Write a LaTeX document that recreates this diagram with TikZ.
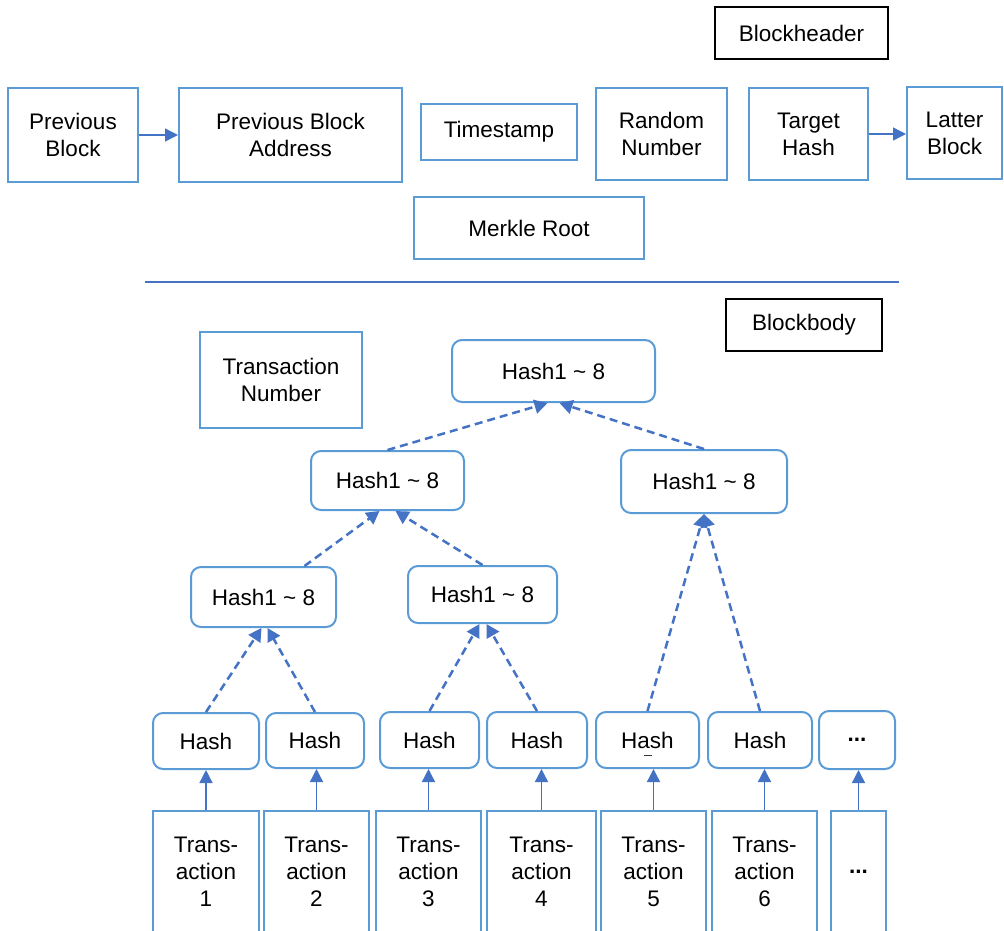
\documentclass[tikz,border=0pt]{standalone}
\usepackage{fontspec}
\setmainfont{Liberation Sans}
\usetikzlibrary{arrows.meta}

\definecolor{boxblue}{HTML}{5B9BD5}
\definecolor{linkblue}{HTML}{4472C4}

\tikzset{
  every node/.style={font=\fontsize{22.5}{27}\selectfont, inner sep=0pt, align=center},
  field/.style={draw=boxblue, line width=2pt, fill=white},
  hashbox/.style={field, rounded corners=10pt},
  tagbox/.style={draw=black, line width=2pt, fill=white},
  txbox/.style={field, minimum height=122pt},
  link/.style={draw=linkblue, line width=1.4pt, -{Triangle[length=13pt,width=13pt]}},
  merge/.style={draw=linkblue, line width=2.5pt, dash pattern=on 8pt off 5pt,
                -{Triangle[length=13pt,width=14pt]}},
}

\begin{document}
\begin{tikzpicture}[x=1pt, y=-1pt]
  \useasboundingbox (0,0) rectangle (1004,930);
  \clip (0,0) rectangle (1004,930);

  % ---------- block header ----------
  \node[tagbox, minimum width=173pt, minimum height=52pt] (bheader) at (801.5,33) {Blockheader};

  \node[field, minimum width=130pt, minimum height=94pt] (prev)   at (73,135)    {Previous\\Block};
  \node[field, minimum width=223pt, minimum height=94pt] (pba)    at (290.5,135) {Previous Block\\Address};
  \node[field, minimum width=156pt, minimum height=56pt] (ts)     at (499,132)   {Timestamp};
  \node[field, minimum width=131pt, minimum height=92pt] (rand)   at (661.5,134) {Random\\Number};
  \node[field, minimum width=119pt, minimum height=92pt] (target) at (808.5,134) {Target\\Hash};
  \node[field, minimum width=95pt,  minimum height=92pt] (latter) at (954.5,133) {Latter\\Block};
  \node[field, minimum width=230pt, minimum height=62pt] (merkle) at (529,228)   {Merkle Root};

  \draw[link] (prev.east) -- (pba.west);
  \draw[link] (target.east) -- (target.east -| latter.west);

  % ---------- divider ----------
  \coordinate (sepL) at (145,282);
  \coordinate (sepR) at (899,282);
  \draw[linkblue, line width=1.5pt] (sepL) -- (sepR);

  % ---------- block body ----------
  \node[tagbox, minimum width=156pt, minimum height=52pt] (bbody) at (804,325) {Blockbody};
  \node[field, minimum width=162pt, minimum height=96pt] (txnum) at (281,380) {Transaction\\Number};

  % Merkle tree
  \node[hashbox, minimum width=203pt, minimum height=62pt] (root) at (553.5,371)   {Hash1 \textasciitilde{} 8};
  \node[hashbox, minimum width=153pt, minimum height=59pt] (l2a)  at (387.5,480.5) {Hash1 \textasciitilde{} 8};
  \node[hashbox, minimum width=166pt, minimum height=63pt] (l2b)  at (704,481.5)   {Hash1 \textasciitilde{} 8};
  \node[hashbox, minimum width=145pt, minimum height=60pt] (l3a)  at (263.5,597)   {Hash1 \textasciitilde{} 8};
  \node[hashbox, minimum width=149pt, minimum height=57pt] (l3b)  at (482.5,594.5) {Hash1 \textasciitilde{} 8};

  \node[hashbox, minimum width=106pt, minimum height=56pt] (h1) at (206,741)   {Hash};
  \node[hashbox, minimum width=98pt,  minimum height=55pt] (h2) at (315,740.5) {Hash};
  \node[hashbox, minimum width=99pt,  minimum height=56pt] (h3) at (429.5,740) {Hash};
  \node[hashbox, minimum width=100pt, minimum height=56pt] (h4) at (537,740)   {Hash};
  \node[hashbox, minimum width=103pt, minimum height=56pt] (h5) at (647.5,740) {Hash};
  \node[hashbox, minimum width=104pt, minimum height=56pt] (h6) at (760,740)   {Hash};
  \node[hashbox, minimum width=76pt,  minimum height=58pt] (hx) at (857,740)   {\textbf{...}};
  \draw[line width=1pt, black!80] ([xshift=-4pt,yshift=-15pt]h5.center) -- ([xshift=4pt,yshift=-15pt]h5.center);

  % transactions (boxes run past the lower edge)
  \node[txbox, minimum width=106pt] (t1) at (206,872)   {Trans-\\action\\1};
  \node[txbox, minimum width=105pt] (t2) at (316.5,872) {Trans-\\action\\2};
  \node[txbox, minimum width=105pt] (t3) at (428.5,872) {Trans-\\action\\3};
  \node[txbox, minimum width=109pt] (t4) at (541.5,872) {Trans-\\action\\4};
  \node[txbox, minimum width=105pt] (t5) at (653.5,872) {Trans-\\action\\5};
  \node[txbox, minimum width=105pt] (t6) at (764.5,872) {Trans-\\action\\6};
  \node[txbox, minimum width=55pt]  (tx) at (858.5,872) {\textbf{...}};

  % transaction -> leaf hash
  \foreach \t/\h in {t1/h1, t2/h2, t3/h3, t4/h4, t5/h5, t6/h6, tx/hx}
    \draw[link] (\t.north) -- (\t.north |- \h.south);

  % leaf hashes -> level 3
  \draw[merge] (h1.north) -- ([xshift=-2pt]l3a.south);
  \draw[merge] (h2.north) -- ([xshift=4pt]l3a.south);
  \draw[merge] (h3.north) -- ([xshift=-3pt]l3b.south);
  \draw[merge] (h4.north) -- ([xshift=4pt]l3b.south);
  % leaf hashes -> level 2 (right)
  \draw[merge] (h5.north) -- (l2b.south);
  \draw[merge] (h6.north) -- (l2b.south);
  % level 3 -> level 2 (left)
  \draw[merge] ([xshift=41pt]l3a.north) -- ([xshift=-8pt]l2a.south);
  \draw[merge] (l3b.north) -- ([xshift=8pt]l2a.south);
  % level 2 -> root
  \draw[merge] (l2a.north) -- ([xshift=-6pt]root.south);
  \draw[merge] (l2b.north) -- ([xshift=6pt]root.south);
\end{tikzpicture}
\end{document}
